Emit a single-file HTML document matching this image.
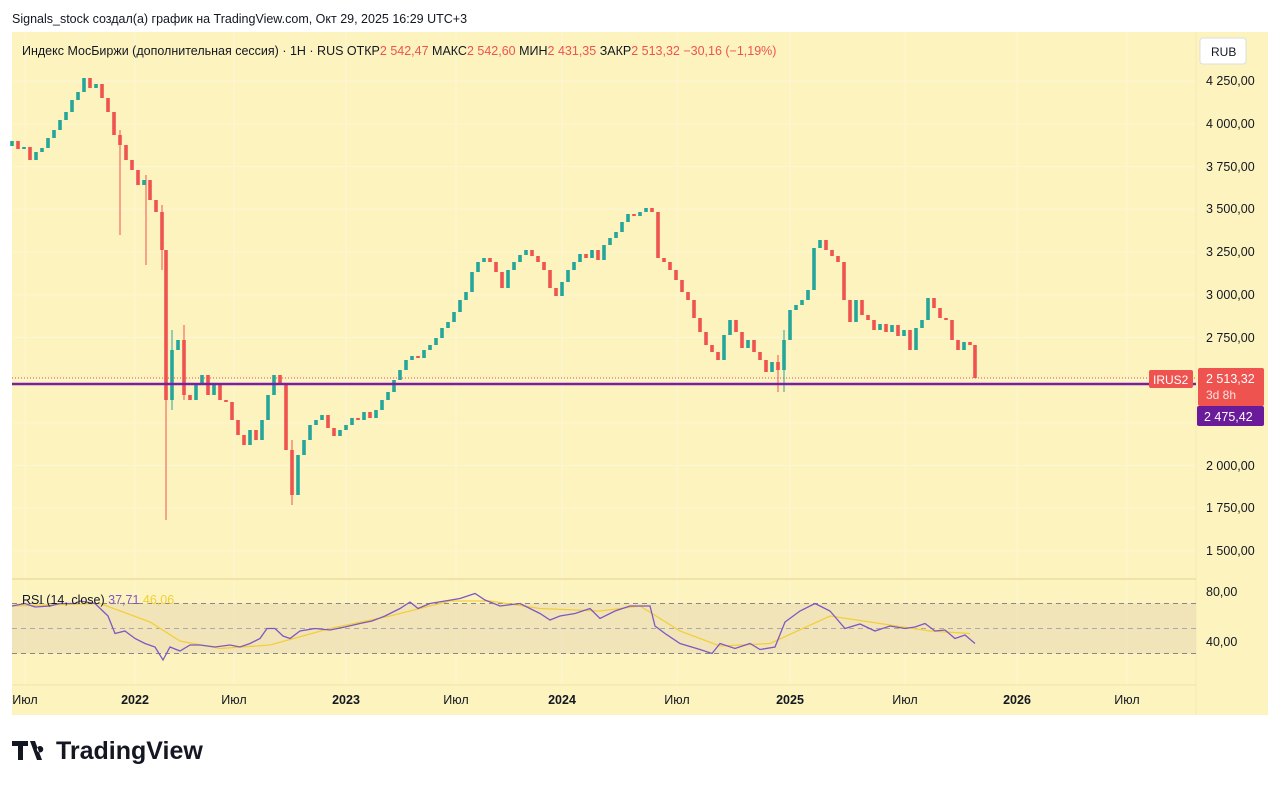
<!DOCTYPE html>
<html><head><meta charset="utf-8"><style>
body{margin:0;background:#fff;width:1280px;height:786px;overflow:hidden;}
</style></head><body>
<svg width="1280" height="786" xmlns="http://www.w3.org/2000/svg" font-family="Liberation Sans, DejaVu Sans, sans-serif">
<rect width="1280" height="786" fill="#fff"/>
<text x="12" y="23" font-size="12.5" fill="#131722">Signals_stock создал(а) график на TradingView.com, Окт 29, 2025 16:29 UTC+3</text>
<rect x="12" y="32" width="1256" height="683" fill="#fdf3bf"/>
<g stroke="#fbf6d6" stroke-width="1">
<path d="M12 81H1196M12 123.7H1196M12 166.5H1196M12 209.2H1196M12 252H1196M12 294.7H1196M12 337.5H1196M12 380H1196M12 423H1196M12 465.5H1196M12 508H1196M12 551H1196"/>
<path d="M25 32V685M135 32V685M234 32V685M346 32V685M456 32V685M562 32V685M677 32V685M790 32V685M905 32V685M1017 32V685M1127 32V685"/>
</g>
<line x1="1196" y1="32" x2="1196" y2="715" stroke="#f3e9b4"/>
<line x1="12" y1="579" x2="1196" y2="579" stroke="#f0e3a6" stroke-width="2"/>
<line x1="12" y1="685" x2="1196" y2="685" stroke="#f0e3a6"/>
<rect x="12" y="603.5" width="1184" height="50" fill="#efe0b8" opacity="0.8"/>
<g stroke="#888" stroke-dasharray="5,4" stroke-width="1">
<line x1="12" y1="603.5" x2="1196" y2="603.5"/><line x1="12" y1="628.5" x2="1196" y2="628.5" stroke="#aaa"/><line x1="12" y1="653.5" x2="1196" y2="653.5"/></g>

<path stroke="#ef5350" stroke-width="1" fill="none" d="M166 250V520M120 130V235M146 175V265M292 440V505M778 355V392M162 205V270M184 325V400"/>
<path stroke="#26a69a" stroke-width="1" fill="none" d="M172 330V410M784 330V392"/>
<path stroke="#26a69a" stroke-width="3.6" fill="none" d="M12 146V141M24 149V147M36 160V152M42 152V148M48 148V138M54 138V130M60 130V120M66 120V112M72 112V100M78 100V92M84 92V78M96 88V84M144 185V180M172 400V350M178 350V340M196 400V385M202 385V375M214 395V385M250 445V430M262 440V420M268 420V395M274 395V375M298 495V455M304 455V440M310 440V425M316 425V420M322 420V415M340 436V430M346 430V425M352 425V418M364 420V412M376 418V410M382 410V400M388 400V392M394 392V380M400 380V370M406 370V360M412 360V356M424 358V350M430 350V345M436 345V338M442 338V328M448 328V322M454 322V312M460 312V300M466 300V292M472 292V272M478 272V262M484 262V258M508 288V270M514 270V262M520 262V255M526 255V250M562 296V282M568 282V270M574 270V262M580 262V254M592 258V250M604 260V245M610 245V238M616 238V232M622 232V222M628 222V214M640 216V212M646 212V208M724 360V335M730 335V320M748 348V340M772 372V362M784 370V340M790 340V310M796 310V305M802 305V300M808 300V290M814 290V248M820 248V240M856 322V300M880 330V324M892 332V325M904 336V330M916 350V328M922 328V320M928 320V298M964 350V342"/>
<path stroke="#ef5350" stroke-width="3.6" fill="none" d="M18 141V149M30 147V160M90 78V88M102 84V98M108 98V112M114 112V135M120 135V145M126 145V160M132 160V170M138 170V185M150 180V200M156 200V212M162 212V250M166 250V400M184 340V395M190 395V400M208 375V395M220 385V400M226 400V402M232 402V420M238 420V435M244 435V445M256 430V440M280 375V385M286 385V450M292 450V495M328 415V428M334 428V436M358 418V420M370 412V418M418 356V358M490 258V262M496 262V272M502 272V288M532 250V256M538 256V262M544 262V270M550 270V288M556 288V296M586 254V258M598 250V260M634 214V216M652 208V212M658 212V258M664 258V262M670 262V270M676 270V280M682 280V292M688 292V300M694 300V318M700 318V332M706 332V345M712 345V352M718 352V360M736 320V332M742 332V348M754 340V352M760 352V360M766 360V372M778 362V370M826 240V250M832 250V256M838 256V262M844 262V300M850 300V322M862 300V315M868 315V320M874 320V330M886 324V332M898 325V336M910 330V350M934 298V308M940 308V318M946 318V320M952 320V340M958 340V350M970 342V345M975 345V378"/>

<line x1="12" y1="378" x2="1196" y2="378" stroke="#e05050" stroke-dasharray="1,2" stroke-width="1"/>
<line x1="12" y1="384" x2="1196" y2="384" stroke="#7b1fa2" stroke-width="2.5"/>
<polyline fill="none" stroke="#f2cf3a" stroke-width="1.3" points="12,606 100,603.5 150,622 180,641 220,648.5 270,645 330,628.5 390,616 450,601 490,601 540,608.5 600,611 640,606 680,631 720,646 770,643.5 830,616 880,623.5 930,631 970,633.5"/>
<polyline fill="none" stroke="#7e57c2" stroke-width="1.3" points="12,606 25,603.5 35,607 50,606 60,603.5 75,603.5 80,601 95,603.5 108,616 115,633.5 125,631 135,638.5 145,643.5 155,647 163,660 170,647 180,651 190,645 200,645 215,647 230,645 240,647 250,643.5 260,638.5 267,628.5 275,628.5 283,636 290,638.5 300,631 315,628.5 330,630 345,627 360,623.5 372,621 385,616 400,608.5 410,602 418,608.5 430,603.5 445,601 460,598.5 475,593.5 485,600 500,606 520,603.5 540,613.5 550,620 560,616 575,613.5 590,608.5 600,618.5 615,611 630,606 650,606 655,626 665,633.5 680,643.5 700,649.5 712,653.5 720,643.5 735,648.5 750,643.5 760,649.5 775,647 785,622 800,611 815,603.5 830,611 845,628.5 860,624 875,631 890,626 905,628.5 915,627 925,623.5 935,631 945,630 955,638.5 965,635 975,643.5"/>

<text x="22" y="55" font-size="12.5" fill="#131722">Индекс МосБиржи (дополнительная сессия) · 1H · RUS  ОТКР<tspan fill="#ef5350">2 542,47</tspan>  МАКС<tspan fill="#ef5350">2 542,60</tspan>  МИН<tspan fill="#ef5350">2 431,35</tspan>  ЗАКР<tspan fill="#ef5350">2 513,32  −30,16 (−1,19%)</tspan></text>
<text x="22" y="604" font-size="12.5" fill="#131722">RSI (14, close) <tspan fill="#7e57c2">37,71</tspan>  <tspan fill="#f2cf3a">46,06</tspan></text>
<rect x="1200" y="38" width="46" height="26" rx="3" fill="#fff" stroke="#ddd"/>
<text x="1211" y="56" font-size="12" fill="#131722">RUB</text>
<g font-size="12.5" fill="#131722">
<text x="1206" y="85">4 250,00</text><text x="1206" y="128">4 000,00</text><text x="1206" y="171">3 750,00</text><text x="1206" y="213">3 500,00</text><text x="1206" y="256">3 250,00</text><text x="1206" y="299">3 000,00</text><text x="1206" y="342">2 750,00</text><text x="1206" y="470">2 000,00</text><text x="1206" y="512">1 750,00</text><text x="1206" y="555">1 500,00</text>
<text x="1206" y="596">80,00</text><text x="1206" y="646">40,00</text>
</g>
<rect x="1149" y="370" width="44" height="18" rx="2" fill="#ef5350"/>
<text x="1153" y="384" font-size="12" fill="#fff">IRUS2</text>
<rect x="1198" y="368" width="66" height="38" rx="2" fill="#ef5350"/>
<text x="1206" y="383" font-size="12.5" fill="#fff">2 513,32</text>
<text x="1206" y="399" font-size="12" fill="#fde0de">3d 8h</text>
<rect x="1197" y="406" width="67" height="20" rx="2" fill="#6a1b9a"/>
<text x="1204" y="421" font-size="12.5" fill="#fff">2 475,42</text>
<g font-size="12.5" fill="#131722" text-anchor="middle">
<text x="25" y="704">Июл</text><text x="135" y="704" font-weight="bold">2022</text><text x="234" y="704">Июл</text><text x="346" y="704" font-weight="bold">2023</text><text x="456" y="704">Июл</text><text x="562" y="704" font-weight="bold">2024</text><text x="677" y="704">Июл</text><text x="790" y="704" font-weight="bold">2025</text><text x="905" y="704">Июл</text><text x="1017" y="704" font-weight="bold">2026</text><text x="1127" y="704">Июл</text>
</g>
<g transform="translate(12,739)"><path d="M0 2h16v5h-5v14h-5v-14h-6z M18 2h5l7 19h-5z M28 7a3.2 3.2 0 1 0 0.1 0z" fill="#131722"/>
<text x="44" y="20" font-size="25" font-weight="bold" fill="#131722">TradingView</text></g>
</svg>
</body></html>
